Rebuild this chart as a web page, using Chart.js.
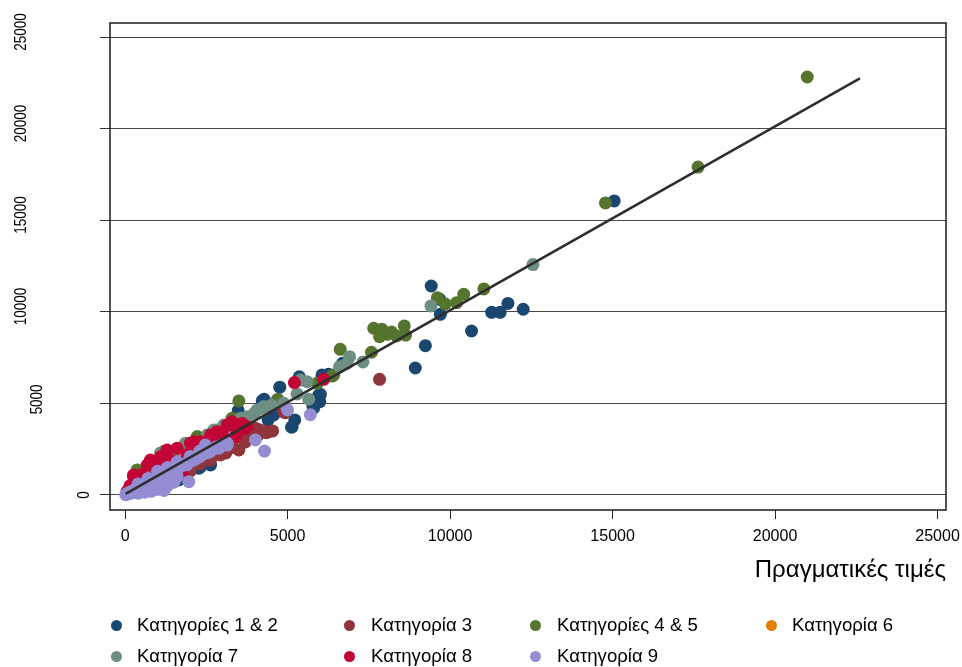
<!DOCTYPE html>
<html>
<head>
<meta charset="utf-8">
<script src="https://cdn.jsdelivr.net/npm/chart.js@4/dist/chart.umd.min.js"></script>
<style>
  html, body { margin: 0; padding: 0; background: #fff; }
  #wrap { position: relative; width: 962px; height: 667px; }
  #legend { position: absolute; left: 0; top: 0; width: 962px; height: 667px; pointer-events: none;
            font-family: "Liberation Sans", Arial, sans-serif; font-size: 18.6px; color: #000; }
  .dot { position: absolute; width: 11px; height: 11px; border-radius: 50%; }
  .lbl { position: absolute; white-space: nowrap; line-height: 22px; }
</style>
</head>
<body>
<div id="wrap">
  <canvas id="scatter" width="962" height="667"></canvas>
  <div id="legend"></div>
</div>
<script>
// x = Πραγματικές τιμές, y = εκτιμώμενες τιμές
const cat12 = [[15050,16070],[9420,11420],[9680,10690],[9700,9870],[11780,10470],[11280,9980],[11540,9980],[12250,10150],
  [10660,8960],[9240,8160],[8930,6940],[6690,7200],[6260,6600],[6060,6560],[6060,6460],[5360,6460],[4760,5890],
  [6010,5500],[5960,5460],[5990,5100],[5780,4880],[5800,4740],[4220,5150],[4280,5230],[3480,4610],[5220,4100],
  [5140,3730],[5120,3700],[4600,4460],[4570,4370],[2630,1640],[2320,1550],[2270,1460],[1650,820],[3600,3150],
  [3100,2600],[2000,1700],[1000,900],[1400,1250],[4400,4100],[3900,3700]];
const cat3 = [[7830,6320],[4930,4500],[4880,4550],[4420,3460],[4350,3400],[4270,3460],[4160,3550],[4010,3650],
  [3900,3400],[3700,3300],[4100,3300],[3500,3190],[3290,2910],[3700,2900],[3500,2460],[3300,2600],[3100,2300],
  [2930,2190],[2880,2910],[2630,1910],[2530,2000],[2300,1700],[2200,1900],[2000,1300],[1700,1300],[1500,950],
  [1200,800],[800,600],[400,250],[4540,3500],[2700,2300]];
const cat45 = [[20990,22840],[17630,17920],[14780,15960],[11040,11260],[10420,10970],[10200,10510],[9850,10440],
  [9610,10780],[8630,8740],[8590,9240],[8350,8690],[8200,8900],[8060,8780],[7900,9060],[7830,8650],[7650,9110],
  [7580,7800],[6620,7960],[6420,6560],[6370,6500],[5910,6100],[4700,5230],[4680,5190],[3500,5140],[3290,4190],
  [2700,3300],[2220,3190],[1500,2000],[1190,2370],[580,1190],[370,1370],[3300,3900],[900,1400],[200,500]];
const cat6 = [[120,80],[260,190],[420,330]];
const cat7 = [[12550,12590],[9410,10330],[7320,7270],[6910,7560],[6830,7200],[6600,7010],[5600,6190],[5390,6280],
  [5290,5520],[5650,5230],[4880,5010],[4500,4900],[4270,4830],[4220,4740],[4060,4650],[3980,4460],[3760,4280],
  [3550,4190],[3300,3700],[3040,3830],[2880,3460],[2730,3550],[2630,3000],[2530,3280],[2300,2900],[2000,2500],
  [1960,2640],[1860,2830],[1500,2100],[1090,2300],[1100,1600],[700,1100],[300,600],[2830,3550]];
const cat8 = [[6110,6320],[5210,6140],[3290,4000],[3340,3920],[3240,3830],[3140,3830],[3750,3730],[3700,3650],
  [3600,3900],[3500,3500],[3400,3200],[3000,3300],[2830,3460],[2800,3100],[2630,3280],[2470,2730],[2400,2600],
  [2320,2910],[2110,2910],[2110,2640],[2010,2830],[1900,2200],[1600,2550],[1400,1900],[1290,2460],[1090,2090],
  [1100,1600],[900,1500],[780,1910],[680,1640],[500,1100],[260,1090],[260,1000],[150,500],[1760,1190],[60,200]];
const cat9 = [[5700,4390],[5000,4650],[4290,2400],[4010,3010],[3140,2830],[3140,2730],[2880,2550],[2830,2640],
  [2470,2730],[1960,730],[20,20],[60,50],[100,120],[150,80],[200,200],[250,150],[300,300],[350,250],[400,400],
  [450,300],[500,450],[550,380],[600,550],[650,500],[700,650],[750,550],[800,750],[850,650],[900,850],[950,700],
  [1000,950],[1050,800],[1100,1000],[1150,900],[1200,1150],[1300,1100],[1350,1250],[1400,1200],[1500,1400],
  [1550,1300],[1600,1500],[1700,1550],[1800,1700],[1900,1650],[2000,1850],[2100,1900],[2200,2000],[2300,2100],
  [2400,2250],[2500,2300],[2600,2350],[2700,2500],[2800,2600],[2950,2700],[3050,2750],[1000,300],[1300,500],
  [1500,700],[1200,250],[800,200],[600,150],[400,100],[1100,600],[1400,900],[1600,1000],[1000,1300],[1300,1500],
  [1600,1800],[700,900],[400,600],[2000,2100],[2300,2400]];

// fitted line end points
const fitX = [15, 22610];
const fitY = [60, 22770];

const categories = ["Κατηγορίες 1 & 2", "Κατηγορία 3", "Κατηγορίες 4 & 5", "Κατηγορία 6",
                    "Κατηγορία 7", "Κατηγορία 8", "Κατηγορία 9"];
const seriesData = [cat12, cat3, cat45, cat6, cat7, cat8, cat9];
const colors = ["#1a476f", "#90353b", "#55752f", "#e37e00", "#6e8e84", "#c10534", "#938dd2"];

const xTitle = "Πραγματικές τιμές";
const tickValues = [0, 5000, 10000, 15000, 20000, 25000];

const FONT = '"Liberation Sans", Arial, sans-serif';

const datasets = seriesData.map((pts, i) => ({
  label: categories[i],
  data: pts.map(p => ({ x: p[0], y: p[1] })),
  backgroundColor: colors[i],
  borderWidth: 0,
  pointRadius: 6.5,
  pointHoverRadius: 6.5,
  order: seriesData.length - i   // later categories sit on top
}));
datasets.push({
  label: "fit",
  type: "line",
  data: fitX.map((x, i) => ({ x: x, y: fitY[i] })),
  borderColor: "#2e2e2e",
  borderWidth: 2.6,
  pointRadius: 0,
  fill: false,
  order: 0
});

// plot region box
const framePlugin = {
  id: "frame",
  afterDraw(chart) {
    const { ctx, chartArea: a } = chart;
    ctx.save();
    ctx.strokeStyle = "#1a1a1a";
    ctx.lineWidth = 1.5;
    ctx.strokeRect(a.left, a.top, a.right - a.left, a.bottom - a.top);
    ctx.restore();
  }
};

// vertical y tick labels
const yLabelPlugin = {
  id: "yLabels",
  afterDraw(chart) {
    const { ctx } = chart;
    const y = chart.scales.y;
    ctx.save();
    ctx.font = "16px " + FONT;
    ctx.fillStyle = "#000";
    ctx.textAlign = "center";
    ctx.textBaseline = "middle";
    y.ticks.forEach(t => {
      const label = String(t.value);
      const w = ctx.measureText(label).width * 0.84;
      const py = y.getPixelForValue(t.value);
      const cx = 99.5 - 2.12 * w;
      const cy = py + 1.3 - 0.18 * w;
      ctx.save();
      ctx.translate(cx, cy);
      ctx.rotate(-Math.PI / 2);
      ctx.scale(0.84, 1);
      ctx.fillText(label, 0, 1);
      ctx.restore();
    });
    ctx.restore();
  }
};

new Chart(document.getElementById("scatter"), {
  type: "scatter",
  data: { datasets: datasets },
  options: {
    responsive: false,
    animation: false,
    devicePixelRatio: 1,
    layout: { padding: { top: 23, right: 16, bottom: 0, left: 0 } },
    plugins: { legend: { display: false }, tooltip: { enabled: false } },
    scales: {
      x: {
        type: "linear",
        min: -465,
        max: 25260,
        afterFit: s => { s.height = 157; s.paddingRight = 0; s.paddingLeft = 0; },
        afterBuildTicks: s => { s.ticks = tickValues.map(v => ({ value: v })); },
        border: { display: false },
        grid: { drawOnChartArea: false, tickLength: 9, tickColor: "#222", lineWidth: 1 },
        ticks: { padding: 8, color: "#000", font: { family: FONT, size: 16 }, callback: v => String(v), maxRotation: 0 },
        title: { display: true, text: xTitle, align: "end", color: "#000",
                 font: { family: FONT, size: 24 }, padding: { top: 0, bottom: 82 } }
      },
      y: {
        type: "linear",
        min: -820,
        max: 25790,
        afterFit: s => { s.width = 110; s.paddingTop = 0; s.paddingBottom = 0; },
        afterBuildTicks: s => { s.ticks = tickValues.map(v => ({ value: v })); },
        border: { display: false },
        grid: { color: "#4a4a4a", lineWidth: 1, tickLength: 10, tickColor: "#333" },
        ticks: { display: false }
      }
    }
  },
  plugins: [framePlugin, yLabelPlugin]
});

// legend, two rows of four columns
const legendCols = [{ dot: 116, text: 137 }, { dot: 349, text: 371 }, { dot: 535, text: 557 }, { dot: 771, text: 792 }];
const legendRows = [625, 656];
const legendEl = document.getElementById("legend");
categories.forEach((name, i) => {
  const col = legendCols[i % 4];
  const row = legendRows[Math.floor(i / 4)];
  const dot = document.createElement("span");
  dot.className = "dot";
  dot.style.background = colors[i];
  dot.style.left = (col.dot - 5.5) + "px";
  dot.style.top = (row - 5.5) + "px";
  const lbl = document.createElement("span");
  lbl.className = "lbl";
  lbl.textContent = name;
  lbl.style.left = col.text + "px";
  lbl.style.top = (row - 11) + "px";
  legendEl.appendChild(dot);
  legendEl.appendChild(lbl);
});
</script>
</body>
</html>
